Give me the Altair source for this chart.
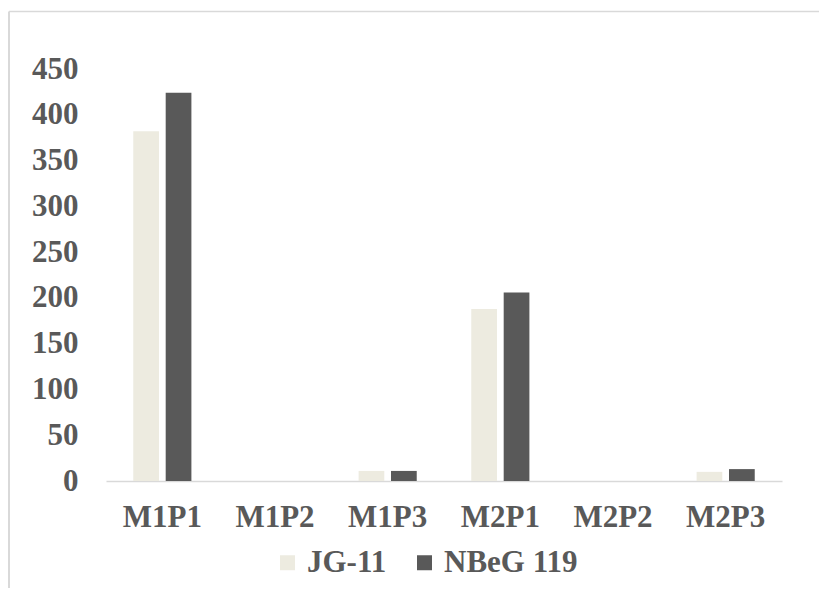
import altair as alt
import pandas as pd

categories = ["M1P1", "M1P2", "M1P3", "M2P1", "M2P2", "M2P3"]
series_names = ["JG-11", "NBeG 119"]
jg11 = [382, 0, 11, 188, 0, 10]
nbeg119 = [424, 0, 11, 206, 0, 13]
colors = ["#EDEBE0", "#595959"]
y_ticks = [0, 50, 100, 150, 200, 250, 300, 350, 400, 450]

rows = []
for c, a, b in zip(categories, jg11, nbeg119):
    rows.append({"cat": c, "series": series_names[0], "value": a})
    rows.append({"cat": c, "series": series_names[1], "value": b})
df = pd.DataFrame(rows)

FONT = "Liberation Serif"
TXT = "#595959"
FS = 31

bars = alt.Chart(df).mark_bar().encode(
    x=alt.X(
        "cat:N", sort=categories,
        scale=alt.Scale(paddingInner=0.484, paddingOuter=0.242),
        axis=alt.Axis(title=None, labelAngle=0, ticks=False, domainColor="#D9D9D9",
                      domainWidth=1.5, labelFont=FONT, labelFontSize=FS,
                      labelFontWeight="bold", labelColor=TXT, labelPadding=21),
    ),
    xOffset=alt.XOffset("series:N", sort=series_names,
                        scale=alt.Scale(paddingInner=0.207, paddingOuter=0)),
    y=alt.Y(
        "value:Q", scale=alt.Scale(domain=[0, 450], nice=False),
        axis=alt.Axis(title=None, values=y_ticks, grid=False, domain=False, ticks=False,
                      labelFont=FONT, labelFontSize=FS, labelFontWeight="bold",
                      labelColor=TXT, labelPadding=28),
    ),
    color=alt.Color(
        "series:N", sort=series_names,
        scale=alt.Scale(domain=series_names, range=colors),
        legend=alt.Legend(title=None, orient="none", legendX=166, legendY=478,
                          direction="horizontal", symbolType="square", symbolSize=225,
                          symbolStrokeWidth=0, labelFont=FONT, labelFontSize=FS,
                          labelFontWeight="bold", labelColor=TXT, labelOffset=4,
                          columnPadding=22, symbolOpacity=1),
    ),
)

border_top = alt.Chart(alt.Data(values=[{}])).mark_rule(
    color="#D9D9D9", strokeWidth=1.5
).encode(x=alt.value(-97), x2=alt.value(713), y=alt.value(-57.5))

border_left = alt.Chart(alt.Data(values=[{}])).mark_rule(
    color="#D9D9D9", strokeWidth=2
).encode(x=alt.value(-97), y=alt.value(-57.5), y2=alt.value(520))

chart = alt.layer(border_top, border_left, bars).properties(
    width=676, height=412,
    autosize=alt.AutoSizeParams(type="none"),
    padding={"left": 98, "top": 61, "right": 37, "bottom": 107},
).configure_view(stroke=None)

chart.save("out.html", embed_options={"renderer": "svg", "actions": False})
